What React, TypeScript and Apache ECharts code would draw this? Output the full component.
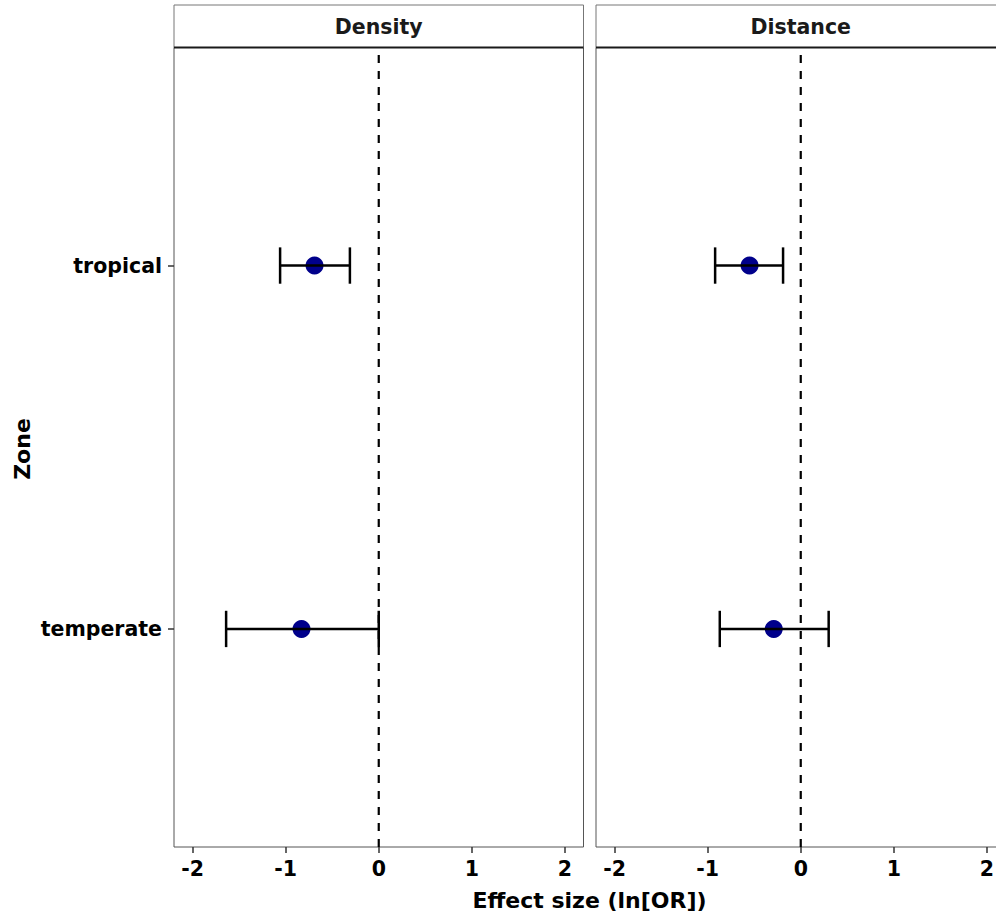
import React, { useEffect, useRef } from "react";
import * as echarts from "echarts";

const zones = ["temperate", "tropical"];
const panels = ["Density", "Distance"];
const xTicks = [-2, -1, 0, 1, 2];
const refX = [0];

const densityEst = [-0.83, -0.69];
const densityLow = [-1.64, -1.06];
const densityHigh = [0.0, -0.31];

const distanceEst = [-0.29, -0.55];
const distanceLow = [-0.87, -0.92];
const distanceHigh = [0.3, -0.19];

const xTitle = "Effect size (ln[OR])";
const yTitle = "Zone";

const FONT = "DejaVu Sans";

export default function App() {
  const ref = useRef<HTMLDivElement>(null);

  useEffect(() => {
    if (!ref.current) return;
    const chart = echarts.init(ref.current, null, { renderer: "svg" });

    const panelData = [
      { est: densityEst, low: densityLow, high: densityHigh },
      { est: distanceEst, low: distanceLow, high: distanceHigh },
    ];

    const yMin = 0.4;
    const yMax = 2.6;
    const gridLefts = [174, 596];
    const gridW = 409.5;
    const gridTop = 47.5;
    const gridH = 799.5;

    const grids = gridLefts.map((l) => ({
      left: l,
      top: gridTop,
      width: gridW,
      height: gridH,
      show: true,
      borderColor: "#555",
      borderWidth: 1,
      backgroundColor: "#fff",
      containLabel: false,
    }));

    const xAxes = gridLefts.map((_, i) => ({
      type: "value",
      gridIndex: i,
      min: -2.2,
      max: 2.2,
      position: "bottom",
      axisLine: { show: false, onZero: false },
      splitLine: { show: false },
      axisTick: {
        show: true,
        customValues: xTicks,
        length: 6,
        lineStyle: { color: "#333", width: 1.5 },
      },
      axisLabel: {
        customValues: xTicks,
        color: "#000",
        fontFamily: FONT,
        fontWeight: "bold",
        fontSize: 20.5,
        margin: 11,
        formatter: (v: number) => String(v),
      },
    }));

    const yAxes = gridLefts.map((_, i) => ({
      type: "value",
      gridIndex: i,
      min: yMin,
      max: yMax,
      position: "left",
      axisLine: { show: false, onZero: false },
      splitLine: { show: false },
      axisTick: {
        show: i === 0,
        customValues: [1, 2],
        length: 6,
        lineStyle: { color: "#333", width: 1.5 },
      },
      axisLabel: {
        show: i === 0,
        customValues: [1, 2],
        color: "#000",
        fontFamily: FONT,
        fontWeight: "bold",
        fontSize: 20.5,
        margin: 12,
        formatter: (v: number) => zones[Math.round(v) - 1] ?? "",
      },
    }));

    const capHalf = 0.05;
    const series: any[] = [];
    panelData.forEach((p, i) => {
      series.push({
        type: "line",
        xAxisIndex: i,
        yAxisIndex: i,
        z: 1,
        silent: true,
        symbol: "none",
        lineStyle: { type: [8, 8], color: "#000", width: 2.2 },
        data: [
          [refX[0], yMin],
          [refX[0], yMax],
        ],
      });
      series.push({
        type: "scatter",
        xAxisIndex: i,
        yAxisIndex: i,
        z: 2,
        symbol: "circle",
        symbolSize: 18,
        itemStyle: { color: "#00008B", opacity: 1 },
        data: zones.map((_, k) => [p.est[k], k + 1]),
      });
      series.push({
        type: "custom",
        xAxisIndex: i,
        yAxisIndex: i,
        z: 3,
        encode: { x: [0, 1], y: 2 },
        data: zones.map((_, k) => [p.low[k], p.high[k], k + 1]),
        renderItem: (params: any, api: any) => {
          const lo = api.value(0);
          const hi = api.value(1);
          const y = api.value(2);
          const a = api.coord([lo, y]);
          const b = api.coord([hi, y]);
          const t = api.coord([lo, y + capHalf]);
          const half = Math.abs(a[1] - t[1]);
          const style = { stroke: "#000", lineWidth: 2.5 };
          return {
            type: "group",
            children: [
              { type: "line", shape: { x1: a[0], y1: a[1], x2: b[0], y2: b[1] }, style },
              { type: "line", shape: { x1: a[0], y1: a[1] - half, x2: a[0], y2: a[1] + half }, style },
              { type: "line", shape: { x1: b[0], y1: b[1] - half, x2: b[0], y2: b[1] + half }, style },
            ],
          };
        },
      });
    });

    const graphics: any[] = [];
    gridLefts.forEach((l, i) => {
      graphics.push({
        type: "rect",
        shape: { x: l, y: 5, width: gridW, height: gridTop - 5 },
        style: { fill: "#fff", stroke: "#777", lineWidth: 1 },
        z: 10,
      });
      graphics.push({
        type: "line",
        shape: { x1: l, y1: gridTop, x2: l + gridW, y2: gridTop },
        style: { stroke: "#1a1a1a", lineWidth: 2 },
        z: 11,
      });
      graphics.push({
        type: "text",
        x: l + gridW / 2,
        y: 27,
        z: 12,
        style: {
          text: panels[i],
          align: "center",
          verticalAlign: "middle",
          fill: "#1a1a1a",
          font: `bold 20.5px "${FONT}"`,
        },
      });
    });
    graphics.push({
      type: "text",
      x: 589.5,
      y: 900,
      z: 12,
      style: {
        text: xTitle,
        align: "center",
        verticalAlign: "middle",
        fill: "#000",
        font: `bold 22px "${FONT}"`,
      },
    });
    graphics.push({
      type: "text",
      x: 22,
      y: 449,
      rotation: Math.PI / 2,
      z: 12,
      style: {
        text: yTitle,
        align: "center",
        verticalAlign: "middle",
        fill: "#000",
        font: `bold 22px "${FONT}"`,
      },
    });

    chart.setOption({
      animation: false,
      backgroundColor: "#fff",
      grid: grids,
      xAxis: xAxes,
      yAxis: yAxes,
      series,
      graphic: graphics,
    });

    return () => chart.dispose();
  }, []);

  return (
    <div
      ref={ref}
      style={{ position: "fixed", left: 0, top: 0, width: 1012, height: 919 }}
    />
  );
}
